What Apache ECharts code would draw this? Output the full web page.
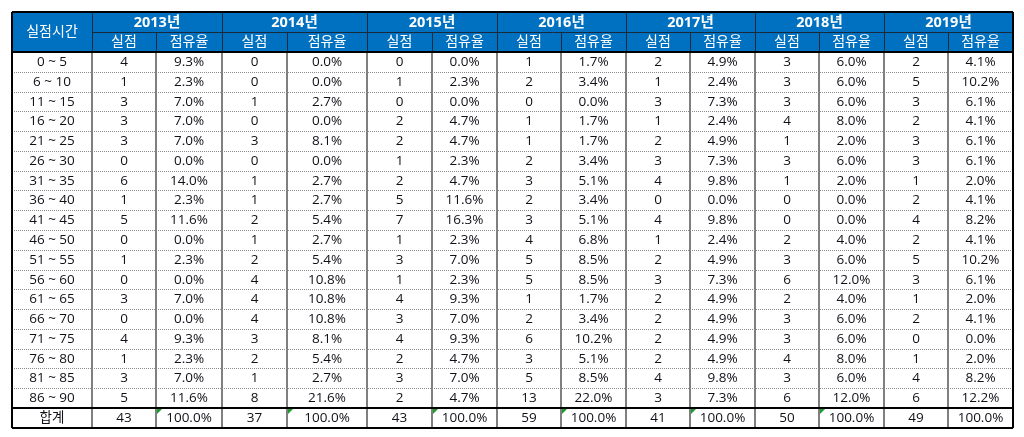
<!DOCTYPE html>
<html><head><meta charset="utf-8">
<script src="https://cdn.jsdelivr.net/npm/echarts@6/dist/echarts.min.js"></script>
<style>html,body{margin:0;padding:0;background:#fff}#c{width:1024px;height:437px}</style>
</head><body><div id="c"></div>
<script>
// ---------- data ----------
const cornerLabel = '실점시간';
const subHeads = ['실점', '점유율'];
const totalLabel = '합계';
const years = ['2013년', '2014년', '2015년', '2016년', '2017년', '2018년', '2019년'];
const timeBands = ['0 ~ 5', '6 ~ 10', '11 ~ 15', '16 ~ 20', '21 ~ 25', '26 ~ 30', '31 ~ 35', '36 ~ 40', '41 ~ 45',
  '46 ~ 50', '51 ~ 55', '56 ~ 60', '61 ~ 65', '66 ~ 70', '71 ~ 75', '76 ~ 80', '81 ~ 85', '86 ~ 90'];
const goals2013 = [4, 1, 3, 3, 3, 0, 6, 1, 5, 0, 1, 0, 3, 0, 4, 1, 3, 5];
const share2013 = ['9.3%', '2.3%', '7.0%', '7.0%', '7.0%', '0.0%', '14.0%', '2.3%', '11.6%', '0.0%', '2.3%', '0.0%', '7.0%', '0.0%', '9.3%', '2.3%', '7.0%', '11.6%'];
const goals2014 = [0, 0, 1, 0, 3, 0, 1, 1, 2, 1, 2, 4, 4, 4, 3, 2, 1, 8];
const share2014 = ['0.0%', '0.0%', '2.7%', '0.0%', '8.1%', '0.0%', '2.7%', '2.7%', '5.4%', '2.7%', '5.4%', '10.8%', '10.8%', '10.8%', '8.1%', '5.4%', '2.7%', '21.6%'];
const goals2015 = [0, 1, 0, 2, 2, 1, 2, 5, 7, 1, 3, 1, 4, 3, 4, 2, 3, 2];
const share2015 = ['0.0%', '2.3%', '0.0%', '4.7%', '4.7%', '2.3%', '4.7%', '11.6%', '16.3%', '2.3%', '7.0%', '2.3%', '9.3%', '7.0%', '9.3%', '4.7%', '7.0%', '4.7%'];
const goals2016 = [1, 2, 0, 1, 1, 2, 3, 2, 3, 4, 5, 5, 1, 2, 6, 3, 5, 13];
const share2016 = ['1.7%', '3.4%', '0.0%', '1.7%', '1.7%', '3.4%', '5.1%', '3.4%', '5.1%', '6.8%', '8.5%', '8.5%', '1.7%', '3.4%', '10.2%', '5.1%', '8.5%', '22.0%'];
const goals2017 = [2, 1, 3, 1, 2, 3, 4, 0, 4, 1, 2, 3, 2, 2, 2, 2, 4, 3];
const share2017 = ['4.9%', '2.4%', '7.3%', '2.4%', '4.9%', '7.3%', '9.8%', '0.0%', '9.8%', '2.4%', '4.9%', '7.3%', '4.9%', '4.9%', '4.9%', '4.9%', '9.8%', '7.3%'];
const goals2018 = [3, 3, 3, 4, 1, 3, 1, 0, 0, 2, 3, 6, 2, 3, 3, 4, 3, 6];
const share2018 = ['6.0%', '6.0%', '6.0%', '8.0%', '2.0%', '6.0%', '2.0%', '0.0%', '0.0%', '4.0%', '6.0%', '12.0%', '4.0%', '6.0%', '6.0%', '8.0%', '6.0%', '12.0%'];
const goals2019 = [2, 5, 3, 2, 3, 3, 1, 2, 4, 2, 5, 3, 1, 2, 0, 1, 4, 6];
const share2019 = ['4.1%', '10.2%', '6.1%', '4.1%', '6.1%', '6.1%', '2.0%', '4.1%', '8.2%', '4.1%', '10.2%', '6.1%', '2.0%', '4.1%', '0.0%', '2.0%', '8.2%', '12.2%'];
const totalGoals = [43, 37, 43, 59, 41, 50, 49];
const totalShares = ['100.0%', '100.0%', '100.0%', '100.0%', '100.0%', '100.0%', '100.0%'];
const flaggedTotals = [true, true, true, true, true, true, false];

// ---------- layout (not data) ----------
const colW = [80, 64, 66, 65, 80, 65, 65, 64, 65, 64, 65, 64, 65, 64, 65];
const rowH = [20, 20].concat(new Array(18).fill(19.78)).concat([20]);
const colX = [0]; colW.forEach(w => colX.push(colX[colX.length - 1] + w));
const rowY = [0]; rowH.forEach(h => rowY.push(rowY[rowY.length - 1] + h));
const W = colX[colX.length - 1], H = rowY[rowY.length - 1];

const goalsByYear = [goals2013, goals2014, goals2015, goals2016, goals2017, goals2018, goals2019];
const shareByYear = [share2013, share2014, share2015, share2016, share2017, share2018, share2019];

// cells: [c0, r0, c1, r1, text, kind]  kind: 0=header bold,1=header,2=body,3=body flagged
const cells = [];
cells.push([0, 0, 1, 2, cornerLabel, 1]);
years.forEach((y, i) => {
  cells.push([1 + 2 * i, 0, 3 + 2 * i, 1, y, 0]);
  cells.push([1 + 2 * i, 1, 2 + 2 * i, 2, subHeads[0], 1]);
  cells.push([2 + 2 * i, 1, 3 + 2 * i, 2, subHeads[1], 1]);
});
timeBands.forEach((t, r) => {
  cells.push([0, 2 + r, 1, 3 + r, t, 2]);
  years.forEach((y, i) => {
    cells.push([1 + 2 * i, 2 + r, 2 + 2 * i, 3 + r, String(goalsByYear[i][r]), 2]);
    cells.push([2 + 2 * i, 2 + r, 3 + 2 * i, 3 + r, shareByYear[i][r], 2]);
  });
});
const tr = 2 + timeBands.length;
cells.push([0, tr, 1, tr + 1, totalLabel, 2]);
years.forEach((y, i) => {
  cells.push([1 + 2 * i, tr, 2 + 2 * i, tr + 1, String(totalGoals[i]), 2]);
  cells.push([2 + 2 * i, tr, 3 + 2 * i, tr + 1, totalShares[i], flaggedTotals[i] ? 3 : 2]);
});

// lines: [c0, r0, c1, r1, kind] kind: 0=header dark thin,1=body gray vertical,2=dotted,3=thick black
const lines = [];
lines.push([1, 1, 15, 1, 0]);
for (let c = 1; c < 15; c++) {
  if (c % 2 === 1) lines.push([c, 0, c, 2, 0]); else lines.push([c, 1, c, 2, 0]);
  lines.push([c, 2, c, tr + 1, 1]);
}
for (let r = 3; r < tr; r++) lines.push([0, r, 15, r, 2]);
lines.push([0, 2, 15, 2, 3]);
lines.push([0, tr, 15, tr, 3]);
lines.push([0, 0, 15, 0, 3]);
lines.push([0, tr + 1, 15, tr + 1, 3]);
lines.push([0, 0, 0, tr + 1, 3]);
lines.push([15, 0, 15, tr + 1, 3]);

const FONT = '"Open Sans", "Noto Sans CJK KR", sans-serif';
const chart = echarts.init(document.getElementById('c'), null, { renderer: 'canvas' });

function cellRender(params, api) {
  const d = cells[params.dataIndex];
  const p0 = api.coord([colX[d[0]], rowY[d[1]]]);
  const p1 = api.coord([colX[d[2]], rowY[d[3]]]);
  const x = Math.round(p0[0]), y = Math.round(p0[1]);
  const w = Math.round(p1[0]) - x, h = Math.round(p1[1]) - y;
  const header = d[5] < 2;
  const children = [{
    type: 'rect', shape: { x, y, width: w, height: h },
    style: { fill: header ? '#0070C0' : '#ffffff' }
  }, {
    type: 'text',
    style: {
      x: x + w / 2, y: y + h / 2 + 0.5, text: d[4],
      fill: header ? '#ffffff' : '#101018',
      fontFamily: FONT,
      fontSize: d[5] === 0 ? 14.5 : (d[5] === 1 ? 14 : 13.5),
      fontWeight: d[5] === 0 ? 'bold' : 'normal',
      align: 'center', verticalAlign: 'middle'
    }
  }];
  if (d[5] === 3) {
    children.push({
      type: 'polygon', shape: { points: [[x + 1, y + 1], [x + 6, y + 1], [x + 1, y + 6]] },
      style: { fill: '#1f9a2f' }
    });
  }
  return { type: 'group', children };
}

function lineRender(params, api) {
  const d = lines[params.dataIndex];
  const p0 = api.coord([colX[d[0]], rowY[d[1]]]);
  const p1 = api.coord([colX[d[2]], rowY[d[3]]]);
  const styles = [
    { stroke: '#1b2a3a', lineWidth: 1 },
    { stroke: '#7f7f7f', lineWidth: 2 },
    { stroke: '#8a8a8a', lineWidth: 1, lineDash: [1, 1] },
    { stroke: '#000000', lineWidth: 2 }
  ];
  const s = styles[d[4]];
  const off = s.lineWidth % 2 === 1 ? 0.5 : 0;
  let x1 = Math.round(p0[0]), y1 = Math.round(p0[1]), x2 = Math.round(p1[0]), y2 = Math.round(p1[1]);
  if (x1 === x2) { x1 += off; x2 += off; } else { y1 += off; y2 += off; }
  return { type: 'line', shape: { x1, y1, x2, y2 }, style: Object.assign({ fill: null }, s) };
}

chart.setOption({
  animation: false,
  backgroundColor: '#ffffff',
  grid: { left: 12, top: 12, width: 1001, height: 416, containLabel: false },
  xAxis: { type: 'value', min: 0, max: W, show: false },
  yAxis: { type: 'value', min: 0, max: H, inverse: true, show: false },
  series: [
    { type: 'custom', renderItem: cellRender, data: cells.map((c, i) => [i]), encode: { x: -1, y: -1 }, silent: true },
    { type: 'custom', renderItem: lineRender, data: lines.map((c, i) => [i]), encode: { x: -1, y: -1 }, silent: true, z: 3 }
  ]
});
</script>
</body></html>
